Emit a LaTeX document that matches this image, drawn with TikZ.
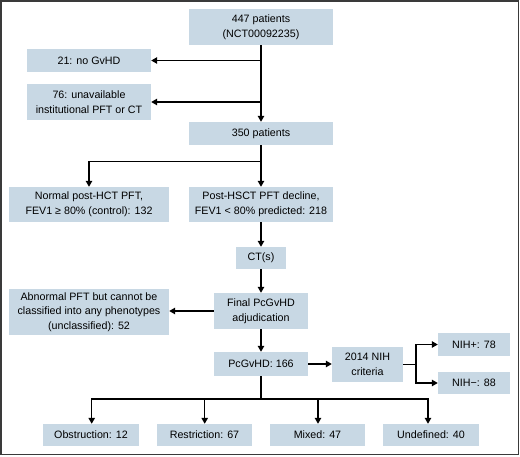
\documentclass[tikz,border=0pt]{standalone}
\usepackage{fontspec}
\setmainfont{Liberation Sans}
\usetikzlibrary{arrows.meta,calc}
\definecolor{boxfill}{HTML}{C8D8E4}
\definecolor{framegray}{HTML}{3A3A3A}
\begin{document}
\begin{tikzpicture}[x=1pt,y=-1pt,
  bx/.style={fill=boxfill,draw=none,align=center,inner sep=0pt,font=\fontsize{10.7}{14.6}\selectfont},
  conn/.style={line width=1.2pt,draw=black},
  arr/.style={conn,-{Triangle[length=6pt,width=6.5pt]}}]
\useasboundingbox (0,0) rectangle (520,456);
\draw[framegray,line width=1.5pt] (1,1) rectangle (518.5,454.5);
\node[bx,minimum width=144pt,minimum height=36pt] (p447) at (261,27) {447 patients\\(NCT00092235)};
\node[bx,minimum width=124pt,minimum height=23pt] (n21) at (89,60.5) {21: no GvHD};
\node[bx,minimum width=124pt,minimum height=36pt] (n76) at (89,102) {76: unavailable\\institutional PFT or CT};
\node[bx,minimum width=144pt,minimum height=23pt] (p350) at (261,133.5) {350 patients};
\node[bx,minimum width=160pt,minimum height=35pt] (normal) at (89,204.5) {Normal post-HCT PFT,\\FEV1 ≥ 80\% (control): 132};
\node[bx,minimum width=144pt,minimum height=35pt] (post) at (261,204.5) {Post-HSCT PFT decline,\\FEV1 < 80\% predicted: 218};
\node[bx,minimum width=50pt,minimum height=22pt] (ct) at (261,258) {CT(s)};
\node[bx,minimum width=94pt,minimum height=36pt] (final) at (261,311) {Final PcGvHD\\adjudication};
\node[bx,minimum width=160pt,minimum height=46pt] (abn) at (89,312) {Abnormal PFT but cannot be\\classified into any phenotypes\\(unclassified): 52};
\node[bx,minimum width=94pt,minimum height=24pt] (pc) at (261,364) {PcGvHD: 166};
\node[bx,minimum width=71pt,minimum height=35pt] (nih) at (367.5,364.5) {2014 NIH\\criteria};
\node[bx,minimum width=72pt,minimum height=23pt] (nihp) at (474,344.5) {NIH+: 78};
\node[bx,minimum width=72pt,minimum height=22pt] (nihm) at (474,383) {NIH−: 88};
\node[bx,minimum width=96pt,minimum height=22pt] (obs) at (91,435) {Obstruction: 12};
\node[bx,minimum width=95pt,minimum height=22pt] (res) at (204.5,435) {Restriction: 67};
\node[bx,minimum width=95pt,minimum height=22pt] (mix) at (317.5,435) {Mixed: 47};
\node[bx,minimum width=96pt,minimum height=22pt] (und) at (431,435) {Undefined: 40};
% connectors
\draw[arr] (p447.south) -- (p350.north);
\draw[arr] (p447.south |- n21.east) -- (n21.east);
\draw[arr] (p447.south |- n76.east) -- (n76.east);
\coordinate (s1) at (261,161.7);
\draw[conn] (p350.south) -- (s1);
\draw[arr] (s1) -| (normal.north);
\draw[arr] (s1) -- (post.north);
\draw[arr] (post.south) -- (ct.north);
\draw[arr] (ct.south) -- (final.north);
\draw[arr] (final.west) -- (abn.east |- final.west);
\draw[arr] (final.south) -- (pc.north);
\draw[arr] (pc.east) -- (nih.west |- pc.east);
\coordinate (s2) at (416,364.5);
\draw[conn] (nih.east) -- (s2);
\draw[arr] (s2) |- (nihp.west);
\draw[arr] (s2) |- (nihm.west);
\coordinate (s3) at (261,399);
\draw[conn] (pc.south) -- (s3);
\draw[arr] (s3) -| ($(obs.north)+(0.7,0)$);
\draw[arr] (s3) -| ($(res.north)+(0.2,0)$);
\draw[arr] (s3) -| ($(mix.north)+(0.5,0)$);
\draw[arr] (s3) -| ($(und.north)+(-3,0)$);
\end{tikzpicture}
\end{document}
